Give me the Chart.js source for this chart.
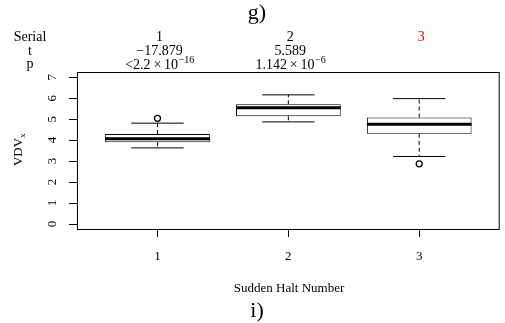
<!DOCTYPE html>
<html>
<head>
<meta charset="utf-8">
<script src="https://cdn.jsdelivr.net/npm/chart.js@4/dist/chart.umd.min.js"></script>
<style>
  body { margin: 0; background: #fff; }
  canvas { display: block; }
</style>
</head>
<body>
<canvas id="myChart" width="505" height="323"></canvas>
<script>
'use strict';

// box plot values
let halts = [1, 2, 3];
let lowerWhisker = [3.63, 4.87, 3.22];
let lowerQuart = [3.90, 5.14, 4.30];
let medians = [4.06, 5.55, 4.76];
let upperQuart = [4.29, 5.71, 5.08];
let upperWhisker = [4.81, 6.16, 5.98];
let outlierX = [1, 3];
let outlierY = [5.04, 2.87];

let yTicks = [0, 1, 2, 3, 4, 5, 6, 7];
let serialLabels = ['1', '2', '3'];
let tValues = ['\u221217.879', '5.589', ''];
let pBase = ['<2.2\u2009\u00d7\u200910', '1.142\u2009\u00d7\u200910', ''];
let pExp = ['\u221216', '\u22126', ''];

let serif = '"Liberation Serif", "Times New Roman", serif';

let boxData = [];
for (let i = 0; i < halts.length; i++) {
    boxData.push({ x: halts[i], y: [lowerQuart[i], upperQuart[i]] });
}
let outlierData = [];
for (let i = 0; i < outlierX.length; i++) {
    outlierData.push({ x: outlierX[i], y: outlierY[i] });
}

function textWithSup(ctx, base, sup, cx, baseline, size) {
    ctx.font = size + 'px ' + serif;
    let w1 = ctx.measureText(base).width;
    ctx.font = Math.round(size * 0.72) + 'px ' + serif;
    let w2 = ctx.measureText(sup).width;
    let start = cx - (w1 + w2) / 2;
    ctx.textAlign = 'left';
    ctx.font = size + 'px ' + serif;
    ctx.fillText(base, start, baseline);
    ctx.font = Math.round(size * 0.72) + 'px ' + serif;
    ctx.fillText(sup, start + w1 + 0.5, baseline - size * 0.42);
}

let boxParts = {
    id: 'boxParts',
    afterDatasetsDraw(chart) {
        let ctx = chart.ctx;
        let xs = chart.scales.x;
        let ys = chart.scales.y;
        let bars = chart.getDatasetMeta(0).data;
        ctx.save();
        ctx.strokeStyle = '#000';
        for (let i = 0; i < halts.length; i++) {
            let cx = xs.getPixelForValue(halts[i]);
            let half = bars[i].width / 2;
            // whiskers
            ctx.lineWidth = 1;
            ctx.setLineDash([4, 3]);
            ctx.beginPath();
            ctx.moveTo(cx, ys.getPixelForValue(upperQuart[i]));
            ctx.lineTo(cx, ys.getPixelForValue(upperWhisker[i]));
            ctx.moveTo(cx, ys.getPixelForValue(lowerQuart[i]));
            ctx.lineTo(cx, ys.getPixelForValue(lowerWhisker[i]));
            ctx.stroke();
            ctx.setLineDash([]);
            // staples
            ctx.beginPath();
            ctx.moveTo(cx - half / 2, ys.getPixelForValue(upperWhisker[i]));
            ctx.lineTo(cx + half / 2, ys.getPixelForValue(upperWhisker[i]));
            ctx.moveTo(cx - half / 2, ys.getPixelForValue(lowerWhisker[i]));
            ctx.lineTo(cx + half / 2, ys.getPixelForValue(lowerWhisker[i]));
            ctx.stroke();
            // median
            ctx.lineWidth = 3;
            ctx.beginPath();
            ctx.moveTo(cx - half, ys.getPixelForValue(medians[i]));
            ctx.lineTo(cx + half, ys.getPixelForValue(medians[i]));
            ctx.stroke();
        }
        ctx.restore();
    },
    afterDraw(chart) {
        let ctx = chart.ctx;
        let area = chart.chartArea;
        let xs = chart.scales.x;
        let ys = chart.scales.y;
        ctx.save();
        ctx.strokeStyle = '#000';
        ctx.fillStyle = '#000';
        ctx.lineWidth = 1;
        ctx.strokeRect(area.left + 0.5, area.top + 0.5, area.right - area.left - 1, area.bottom - area.top);

        // y axis ticks and rotated labels
        ctx.beginPath();
        for (let v of yTicks) {
            let y = Math.round(ys.getPixelForValue(v)) + 0.5;
            ctx.moveTo(area.left - 8, y);
            ctx.lineTo(area.left, y);
        }
        // x axis ticks
        for (let v of halts) {
            let x = Math.round(xs.getPixelForValue(v)) + 0.5;
            ctx.moveTo(x, area.bottom);
            ctx.lineTo(x, area.bottom + 8);
        }
        ctx.stroke();

        ctx.font = '13px ' + serif;
        ctx.textAlign = 'center';
        ctx.textBaseline = 'middle';
        for (let v of yTicks) {
            ctx.save();
            ctx.translate(52.5, ys.getPixelForValue(v));
            ctx.rotate(-Math.PI / 2);
            ctx.fillText(String(v), 0, 0);
            ctx.restore();
        }
        ctx.textBaseline = 'alphabetic';
        for (let v of halts) {
            ctx.fillText(String(v), xs.getPixelForValue(v), 260);
        }
        ctx.fillText('Sudden Halt Number', 289, 292);

        // y axis title VDV_x
        ctx.save();
        ctx.translate(22, 150);
        ctx.rotate(-Math.PI / 2);
        ctx.font = '13px ' + serif;
        let w = ctx.measureText('VDV').width;
        ctx.textAlign = 'left';
        ctx.fillText('VDV', -w / 2 - 2, 0);
        ctx.font = '9px ' + serif;
        ctx.fillText('x', w / 2 - 2, 3);
        ctx.restore();

        // panel letters
        ctx.textAlign = 'center';
        ctx.font = '22px ' + serif;
        ctx.fillText('g)', 257, 19);
        ctx.fillText('i)', 257, 317);

        // test table above the plot
        ctx.font = '14px ' + serif;
        ctx.fillText('Serial', 30, 41);
        ctx.fillText('t', 30, 55);
        ctx.fillText('p', 30, 68);
        for (let i = 0; i < halts.length; i++) {
            let cx = xs.getPixelForValue(halts[i]) + 2;
            ctx.textAlign = 'center';
            ctx.font = '14px ' + serif;
            ctx.fillStyle = i === 2 ? '#ff0000' : '#000';
            ctx.fillText(serialLabels[i], cx, 41);
            ctx.fillStyle = '#000';
            ctx.fillText(tValues[i], cx, 55);
            if (pBase[i] !== '') {
                textWithSup(ctx, pBase[i], pExp[i], cx, 69, 14);
            }
        }
        ctx.restore();
    }
};

let ctx = document.getElementById('myChart').getContext('2d');
let chart = new Chart(ctx, {
    data: {
        datasets: [{
            type: 'bar',
            data: boxData,
            backgroundColor: '#fff',
            borderColor: '#000',
            borderWidth: 1,
            borderSkipped: false,
            categoryPercentage: 1,
            barPercentage: 0.8
        }, {
            type: 'scatter',
            data: outlierData,
            pointRadius: 3,
            pointBackgroundColor: '#fff',
            pointBorderColor: '#000',
            pointBorderWidth: 1.3
        }]
    },
    options: {
        responsive: false,
        devicePixelRatio: 1,
        animation: false,
        layout: { padding: { left: 77, top: 72, right: 3, bottom: 94 } },
        plugins: { legend: { display: false }, tooltip: { enabled: false } },
        scales: {
            x: {
                type: 'linear', display: false, offset: false, min: 0.385, max: 3.615,
                afterBuildTicks: function (scale) {
                    scale.ticks = halts.map(function (v) { return { value: v }; });
                }
            },
            y: { type: 'linear', display: false, min: -0.24, max: 7.25 }
        }
    },
    plugins: [boxParts]
});
</script>
</body>
</html>
